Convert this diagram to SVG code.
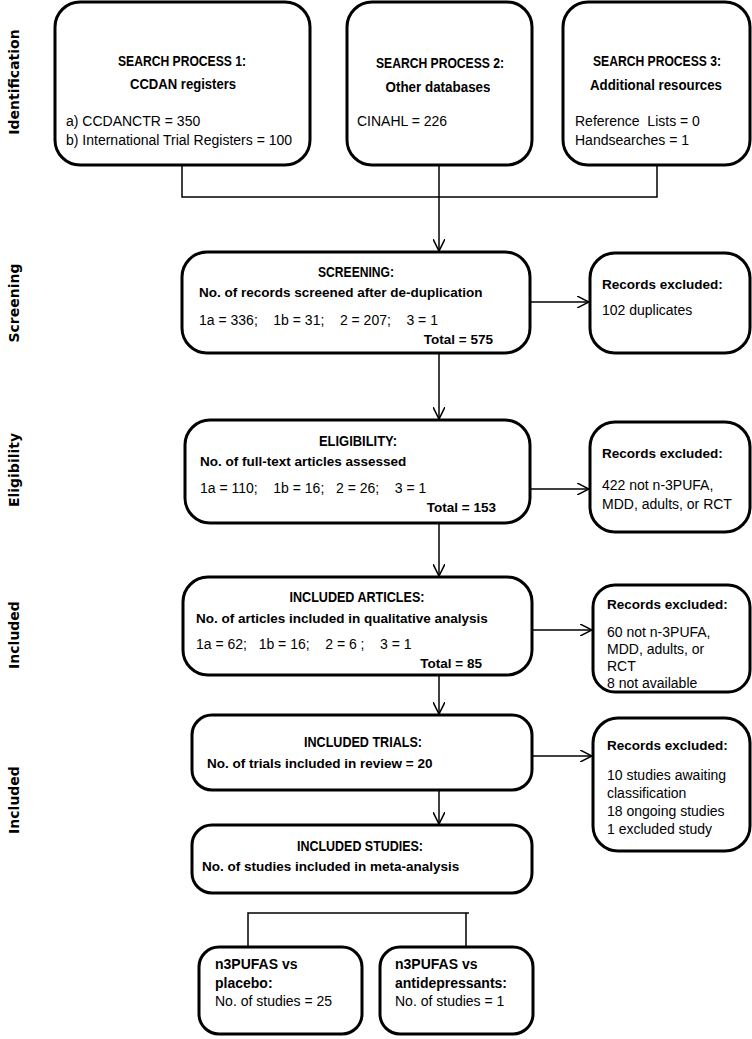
<svg xmlns="http://www.w3.org/2000/svg" width="752" height="1039" viewBox="0 0 752 1039">
<style>
.box{fill:#fff;stroke:#000;stroke-width:3}
.t{font-family:"Liberation Sans",Arial,sans-serif;font-size:14px;fill:#000}
.b{font-weight:bold;font-size:13.5px}
.h{font-size:15px}
.m{text-anchor:middle}
.e{text-anchor:end}
.side{font-family:"DejaVu Sans",Verdana,sans-serif;font-weight:bold;font-size:14px;text-anchor:middle;fill:#000}
.c{fill:none;stroke:#000;stroke-width:1.5}
.bt{font-family:"Liberation Sans",Arial,sans-serif;font-size:14px;fill:#000}
.bb{font-weight:bold}
</style>
<defs>
<marker id="ah" viewBox="0 0 10 10" refX="10" refY="5" markerWidth="12" markerHeight="12" markerUnits="userSpaceOnUse" orient="auto">
<path d="M0,0 L10,5 L0,10" fill="none" stroke="#000" stroke-width="1.3"/>
</marker>
</defs>

<g id="side-labels">
<text class="side" transform="translate(19,82) rotate(-90)">Identification</text>
<text class="side" transform="translate(19,303) rotate(-90)">Screening</text>
<text class="side" transform="translate(19,470) rotate(-90)">Eligibility</text>
<text class="side" transform="translate(19,635) rotate(-90)">Included</text>
<text class="side" transform="translate(19,800) rotate(-90)">Included</text>
</g>

<g id="connectors">
<path class="c" d="M182,165 V197 H657 V165"/>
<path class="c" d="M439,165 V251" marker-end="url(#ah)"/>
<path class="c" d="M439,353 V419" marker-end="url(#ah)"/>
<path class="c" d="M439,523 V576" marker-end="url(#ah)"/>
<path class="c" d="M439,675 V714" marker-end="url(#ah)"/>
<path class="c" d="M439,790 V824" marker-end="url(#ah)"/>
<path class="c" d="M530,302 H589" marker-end="url(#ah)"/>
<path class="c" d="M530,489 H589" marker-end="url(#ah)"/>
<path class="c" d="M532,630 H592" marker-end="url(#ah)"/>
<path class="c" d="M532,756 H592" marker-end="url(#ah)"/>
<path class="c" d="M248,947 V913 H469 M466,913 V947"/>
</g>

<g id="search1">
<rect class="box" x="55" y="2" width="255" height="163" rx="25"/>
<text class="t b h m" x="182" y="66" textLength="128" lengthAdjust="spacingAndGlyphs">SEARCH PROCESS 1:</text>
<text class="t b h m" x="183" y="89" textLength="106" lengthAdjust="spacingAndGlyphs">CCDAN registers</text>
<text class="t" x="66" y="126">a) CCDANCTR = 350</text>
<text class="t" x="66" y="145">b) International Trial Registers = 100</text>
</g>

<g id="search2">
<rect class="box" x="347" y="2" width="185" height="163" rx="25"/>
<text class="t b h m" x="440" y="68" textLength="128" lengthAdjust="spacingAndGlyphs">SEARCH PROCESS 2:</text>
<text class="t b h m" x="438" y="92" textLength="105" lengthAdjust="spacingAndGlyphs">Other databases</text>
<text class="t" x="357" y="126">CINAHL = 226</text>
</g>

<g id="search3">
<rect class="box" x="563" y="2" width="187" height="163" rx="25"/>
<text class="t b h m" x="657" y="66" textLength="128" lengthAdjust="spacingAndGlyphs">SEARCH PROCESS 3:</text>
<text class="t b h m" x="656" y="90" textLength="132" lengthAdjust="spacingAndGlyphs">Additional resources</text>
<text class="t" x="575" y="126" xml:space="preserve">Reference  Lists = 0</text>
<text class="t" x="575" y="145">Handsearches = 1</text>
</g>

<g id="screening">
<rect class="box" x="182" y="252" width="348" height="101" rx="25"/>
<text class="t b h m" x="356" y="277" textLength="76" lengthAdjust="spacingAndGlyphs">SCREENING:</text>
<text class="t b" x="199" y="297">No. of records screened after de-duplication</text>
<text class="t" x="199" y="325" xml:space="preserve">1a = 336;    1b = 31;    2 = 207;    3 = 1</text>
<text class="t b" x="493" y="344" text-anchor="end">Total = 575</text>
</g>

<g id="excluded1">
<rect class="box" x="590" y="253" width="160" height="100" rx="25"/>
<text class="t b" x="602" y="289">Records excluded:</text>
<text class="t" x="602" y="315">102 duplicates</text>
</g>

<g id="eligibility">
<rect class="box" x="185" y="420" width="345" height="103" rx="25"/>
<text class="t b h m" x="358" y="446" textLength="78" lengthAdjust="spacingAndGlyphs">ELIGIBILITY:</text>
<text class="t b" x="200" y="466">No. of full-text articles assessed</text>
<text class="t" x="200" y="493" xml:space="preserve">1a = 110;    1b = 16;   2 = 26;    3 = 1</text>
<text class="t b e" x="496" y="512">Total = 153</text>
</g>

<g id="excluded2">
<rect class="box" x="590" y="422" width="160" height="110" rx="25"/>
<text class="t b" x="602" y="458">Records excluded:</text>
<text class="t" x="602" y="490">422 not n-3PUFA,</text>
<text class="t" x="602" y="509">MDD, adults, or RCT</text>
</g>

<g id="included-articles">
<rect class="box" x="183" y="577" width="349" height="98" rx="25"/>
<text class="t b h m" x="357" y="602" textLength="135" lengthAdjust="spacingAndGlyphs">INCLUDED ARTICLES:</text>
<text class="t b" x="196" y="623">No. of articles included in qualitative analysis</text>
<text class="t" x="196" y="649" xml:space="preserve">1a = 62;   1b = 16;    2 = 6 ;    3 = 1</text>
<text class="t b e" x="482" y="668">Total = 85</text>
</g>

<g id="excluded3">
<rect class="box" x="593" y="585" width="157" height="107" rx="22"/>
<text class="t b" x="607" y="609">Records excluded:</text>
<text class="t" x="607" y="637">60 not n-3PUFA,</text>
<text class="t" x="607" y="654">MDD, adults, or</text>
<text class="t" x="607" y="671">RCT</text>
<text class="t" x="607" y="688">8 not available</text>
</g>

<g id="included-trials">
<rect class="box" x="192" y="715" width="340" height="75" rx="20"/>
<text class="t b h m" x="363" y="747" textLength="118" lengthAdjust="spacingAndGlyphs">INCLUDED TRIALS:</text>
<text class="t b" x="207" y="768">No. of trials included in review = 20</text>
</g>

<g id="excluded4">
<rect class="box" x="593" y="718" width="157" height="133" rx="25"/>
<text class="t b" x="607" y="750">Records excluded:</text>
<text class="t" x="607" y="780">10 studies awaiting</text>
<text class="t" x="607" y="798">classification</text>
<text class="t" x="607" y="816">18 ongoing studies</text>
<text class="t" x="607" y="834">1 excluded study</text>
</g>

<g id="included-studies">
<rect class="box" x="192" y="825" width="340" height="68" rx="20"/>
<text class="t b h m" x="360" y="851" textLength="126" lengthAdjust="spacingAndGlyphs">INCLUDED STUDIES:</text>
<text class="t b" x="202" y="871">No. of studies included in meta-analysis</text>
</g>

<g id="placebo">
<rect class="box" x="199" y="947" width="163" height="87" rx="20"/>
<text class="bt bb" x="215" y="969">n3PUFAS vs</text>
<text class="bt bb" x="215" y="988">placebo:</text>
<text class="bt" x="215" y="1006">No. of studies = 25</text>
</g>

<g id="antidepressants">
<rect class="box" x="380" y="947" width="153" height="87" rx="20"/>
<text class="bt bb" x="395" y="969">n3PUFAS vs</text>
<text class="bt bb" x="395" y="988">antidepressants:</text>
<text class="bt" x="395" y="1006">No. of studies = 1</text>
</g>
</svg>
